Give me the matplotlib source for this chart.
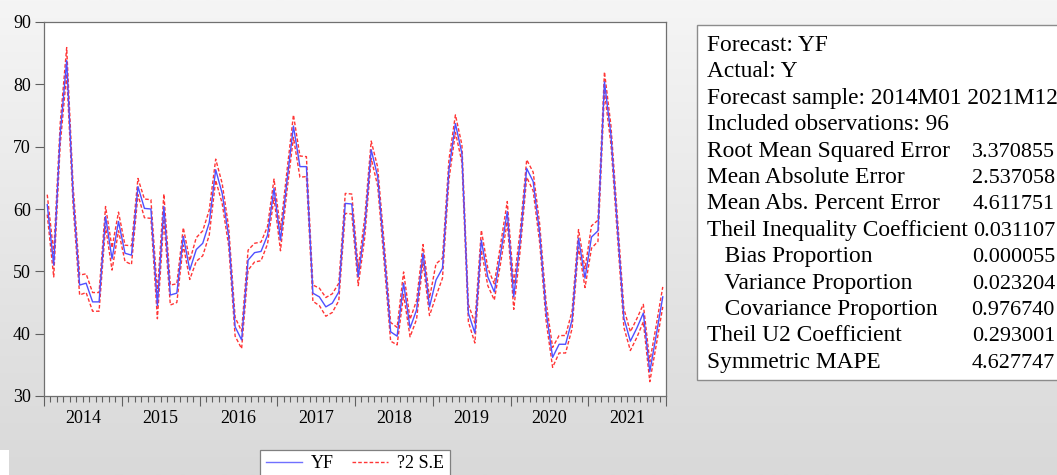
import matplotlib
matplotlib.use('Agg')
import matplotlib.pyplot as plt
import numpy as np
from matplotlib.patches import Rectangle
from matplotlib.lines import Line2D
from matplotlib.colors import LinearSegmentedColormap

# ---------------- data ----------------
years = ['2014', '2015', '2016', '2017', '2018', '2019', '2020', '2021']

yf = [60.7, 51.0, 72.0, 83.8, 62.0, 47.8, 48.1, 45.1, 45.1, 58.8, 52.0, 58.0,
      52.9, 52.6, 63.6, 60.1, 60.0, 44.5, 60.4, 46.2, 46.5, 55.6, 50.2, 53.5,
      54.5, 57.8, 66.3, 62.5, 55.6, 41.1, 39.0, 51.8, 53.0, 53.2, 55.8, 63.3,
      55.0, 64.5, 73.3, 66.8, 66.8, 46.5, 45.9, 44.3, 44.9, 46.7, 60.9, 60.8,
      49.1, 57.0, 69.5, 65.2, 53.0, 40.3, 39.6, 48.1, 40.9, 43.8, 52.9, 44.3,
      48.6, 50.5, 66.3, 73.7, 68.9, 43.3, 40.1, 55.0, 49.1, 46.7, 53.0, 59.6,
      45.9, 55.0, 66.5, 64.4, 56.1, 43.5, 36.2, 38.3, 38.3, 42.2, 55.3, 48.9,
      55.5, 56.5, 80.4, 71.9, 57.2, 42.5, 38.8, 40.9, 43.3, 33.9, 39.8, 45.9]

se2 = [1.6, 1.9, 1.7, 2.1, 1.6, 1.6, 1.5, 1.5, 1.5, 1.6, 1.8, 1.5,
       1.3, 1.5, 1.3, 1.5, 1.5, 2.1, 2.0, 1.6, 1.5, 1.4, 1.5, 1.9,
       2.0, 2.0, 1.7, 1.6, 1.5, 1.5, 1.4, 1.6, 1.5, 1.5, 1.4, 1.5,
       1.7, 1.6, 1.8, 1.7, 1.6, 1.3, 1.4, 1.5, 1.5, 1.4, 1.6, 1.6,
       1.4, 1.6, 1.4, 1.5, 1.6, 1.5, 1.4, 1.8, 1.4, 1.5, 1.4, 1.4,
       2.6, 1.6, 1.6, 1.4, 1.4, 1.4, 1.6, 1.6, 1.4, 1.3, 1.5, 1.6,
       2.0, 1.6, 1.4, 1.5, 1.5, 1.5, 1.6, 1.4, 1.4, 1.4, 1.4, 1.5,
       1.8, 1.7, 1.6, 1.5, 1.5, 1.5, 1.5, 1.5, 1.4, 1.6, 1.6, 1.6]

stats_labels = ['Root Mean Squared Error', 'Mean Absolute Error',
                'Mean Abs. Percent Error', 'Theil Inequality Coefficient',
                '   Bias Proportion', '   Variance Proportion',
                '   Covariance Proportion', 'Theil U2 Coefficient',
                'Symmetric MAPE']
stats_values = ['3.370855', '2.537058', '4.611751', '0.031107', '0.000055',
                '0.023204', '0.976740', '0.293001', '4.627747']
header_lines = ['Forecast: YF', 'Actual: Y',
                'Forecast sample: 2014M01 2021M12', 'Included observations: 96']

# ---------------- figure ----------------
W, H = 1057, 475
fig = plt.figure(figsize=(W / 100, H / 100), dpi=100)
SERIF = 'Liberation Serif'
BLUE = '#5050ff'
RED = '#ff3535'
DASH = (0, (2.6, 1.5))

bg = fig.add_axes([0, 0, 1, 1], zorder=-10)
grad = np.linspace(0, 1, 256).reshape(-1, 1)
cmap = LinearSegmentedColormap.from_list('bg', ['#f5f5f5', '#d9d9d9'])
bg.imshow(grad, aspect='auto', cmap=cmap, extent=[0, 1, 0, 1], origin='upper')
bg.add_patch(Rectangle((0, 0), 9 / W, 25 / H, transform=bg.transAxes,
                       facecolor='white', edgecolor='none'))
bg.set_xlim(0, 1)
bg.set_ylim(0, 1)
bg.axis('off')

ax = fig.add_axes([44 / W, 1 - 396 / H, (666 - 44) / W, (396 - 22) / H])
x = np.arange(len(yf)) + 0.5
yf_a = np.array(yf)
se_a = np.array(se2)
ax.plot(x, yf_a, color=BLUE, lw=1.0, zorder=3)
ax.plot(x, yf_a + se_a, color=RED, lw=1.0, ls=DASH, zorder=2)
ax.plot(x, yf_a - se_a, color=RED, lw=1.0, ls=DASH, zorder=2)

ax.set_xlim(0, len(yf))
ax.set_ylim(30, 90)
ax.set_yticks([30, 40, 50, 60, 70, 80, 90])
ax.set_yticklabels(['30', '40', '50', '60', '70', '80', '90'], family=SERIF, fontsize=13)
ax.set_xticks(np.arange(0, len(yf) + 1, 12))
ax.set_xticks(np.arange(0, len(yf) + 1, 1), minor=True)
ax.set_xticklabels([])
ax.tick_params(axis='x', which='major', length=7, direction='out', color='#606060', width=0.8)
ax.tick_params(axis='x', which='minor', length=4, direction='out', color='#606060', width=0.8)
ax.tick_params(axis='y', length=6.5, direction='out', color='#606060', width=0.8, pad=3)
for s in ax.spines.values():
    s.set_color('#707070')
    s.set_linewidth(0.9)

trans = ax.get_xaxis_transform()
for k, yr in enumerate(years):
    ax.text(6 + 12 * k, -0.059, yr, transform=trans, ha='center', va='center',
            family=SERIF, fontsize=13)

handles = [Line2D([], [], color='#7070ff', lw=1.0),
           Line2D([], [], color=RED, lw=1.0, ls=DASH)]
leg = fig.legend(handles, ['YF', '?2 S.E'], loc='upper center',
                 bbox_to_anchor=(355 / W, 1 - 450 / H), ncol=2, frameon=True,
                 fancybox=False, edgecolor='#808080', framealpha=1,
                 prop={'family': SERIF, 'size': 13}, handlelength=2.0,
                 borderpad=0.3, borderaxespad=0, columnspacing=1.0,
                 handletextpad=0.5)
leg.get_frame().set_linewidth(0.9)

box = Rectangle((697 / W, 1 - 380 / H), (1120 - 697) / W, (380 - 25) / H,
                transform=fig.transFigure, facecolor='white', edgecolor='#8c8c8c',
                lw=1.0, clip_on=False)
fig.add_artist(box)

y0 = 44
dy = 26.4
base_off = 7
fs = 16.8
fs_val = 15.9
for i, t in enumerate(header_lines):
    fig.text(707 / W, 1 - (y0 + i * dy + base_off) / H, t, family=SERIF,
             fontsize=fs, ha='left', va='baseline')
for j, (lab, val) in enumerate(zip(stats_labels, stats_values)):
    yy = 1 - (y0 + (j + 4) * dy + base_off) / H
    fig.text(707 / W, yy, lab, family=SERIF, fontsize=fs, ha='left', va='baseline')
    fig.text(1055 / W, yy, val, family=SERIF, fontsize=fs_val, ha='right', va='baseline')

fig.savefig('out.png', dpi=100)
